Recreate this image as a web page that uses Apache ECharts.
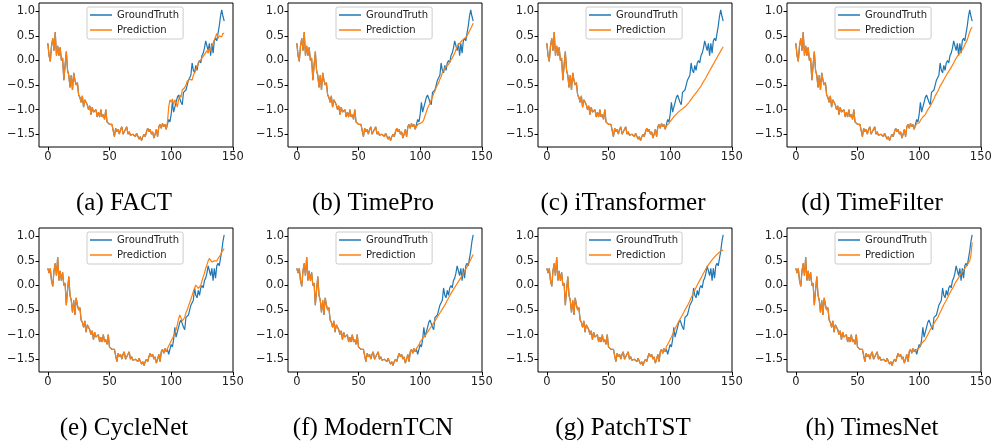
<!DOCTYPE html>
<html>
<head>
<meta charset="utf-8">
<title>Forecast comparison</title>
<script src="https://cdn.jsdelivr.net/npm/echarts@6/dist/echarts.min.js"></script>
<style>
  html, body { margin: 0; padding: 0; background: #fff; }
  #main { width: 995px; height: 448px; }
</style>
</head>
<body>
<div id="main"></div>
<script>
// ground truth, top row (t = 0..143)
var gtTop = [
  0.35, 0.1, -0.02, 0.3, 0.45, 0.2, 0.58, 0.1, 0.3, 0.1,
  0.27, 0.0, 0.05, -0.4, -0.1, 0.18, -0.2, -0.3, -0.55, -0.3,
  -0.6, -0.25, -0.4, -0.5, -0.45, -0.7, -0.75, -0.85, -0.72, -0.95,
  -0.8, -0.85, -0.9, -1.0, -0.92, -1.1, -0.95, -1.05, -1.05, -1.0,
  -1.15, -1.05, -1.15, -1.0, -1.15, -1.1, -1.2, -1.0, -1.25, -1.28,
  -1.3, -1.28, -1.3, -1.28, -1.55, -1.38, -1.45, -1.4, -1.5, -1.4,
  -1.35, -1.5, -1.45, -1.48, -1.35, -1.5, -1.45, -1.52, -1.48, -1.5,
  -1.5, -1.55, -1.48, -1.52, -1.6, -1.55, -1.63, -1.55, -1.5, -1.55,
  -1.45, -1.38, -1.45, -1.4, -1.5, -1.45, -1.58, -1.5, -1.4, -1.55,
  -1.35, -1.3, -1.38, -1.28, -1.35, -1.3, -1.4, -1.38, -1.2, -1.25,
  -1.1, -0.85, -1.05, -0.95, -0.85, -0.75, -0.7, -0.72, -0.85, -0.9,
  -0.65, -0.65, -0.6, -0.5, -0.4, -0.35, -0.3, -0.05, -0.2, -0.25,
  -0.1, -0.2, -0.05, 0.0, -0.05, 0.1, 0.15, 0.25, 0.4, 0.38,
  0.2, 0.35, 0.1, 0.35, 0.15, 0.4, 0.45, 0.4, 0.55, 0.7,
  0.9, 1.03, 0.9, 0.8
];

// ground truth, bottom row (same window, two steps later)
var gtBottom = [
  0.35, 0.25, 0.35, 0.1, -0.02, 0.3, 0.45, 0.2, 0.58, 0.1,
  0.3, 0.1, 0.27, 0.0, 0.05, -0.4, -0.1, 0.18, -0.2, -0.3,
  -0.55, -0.3, -0.6, -0.25, -0.4, -0.5, -0.45, -0.7, -0.75, -0.85,
  -0.72, -0.95, -0.8, -0.85, -0.9, -1.0, -0.92, -1.1, -0.95, -1.05,
  -1.05, -1.0, -1.15, -1.05, -1.15, -1.0, -1.15, -1.1, -1.2, -1.0,
  -1.25, -1.28, -1.3, -1.28, -1.3, -1.28, -1.55, -1.38, -1.45, -1.4,
  -1.5, -1.4, -1.35, -1.5, -1.45, -1.48, -1.35, -1.5, -1.45, -1.52,
  -1.48, -1.5, -1.5, -1.55, -1.48, -1.52, -1.6, -1.55, -1.63, -1.55,
  -1.5, -1.55, -1.45, -1.38, -1.45, -1.4, -1.5, -1.45, -1.58, -1.5,
  -1.4, -1.55, -1.35, -1.3, -1.38, -1.28, -1.35, -1.3, -1.4, -1.38,
  -1.2, -1.25, -1.1, -0.85, -1.05, -0.95, -0.85, -0.75, -0.7, -0.72,
  -0.85, -0.9, -0.65, -0.65, -0.6, -0.5, -0.4, -0.35, -0.3, -0.05,
  -0.2, -0.25, -0.1, -0.2, -0.05, 0.0, -0.05, 0.1, 0.15, 0.25,
  0.4, 0.38, 0.2, 0.35, 0.1, 0.35, 0.15, 0.4, 0.45, 0.4,
  0.55, 0.7, 0.9, 1.03
];

// predictions for t = 97..143 (inputs 0..96 are the ground truth)
var predFACT = [
  -1.25, -0.95, -0.8, -0.85, -0.78, -0.9, -0.8, -0.85, -0.95, -0.8,
  -0.7, -0.75, -0.6, -0.62, -0.55, -0.5, -0.42, -0.45, -0.38, -0.35,
  -0.4, -0.3, -0.25, -0.2, -0.12, -0.15, -0.02, -0.05, 0.05, 0.02,
  0.12, 0.08, 0.2, 0.15, 0.25, 0.2, 0.3, 0.35, 0.42, 0.38,
  0.55, 0.45, 0.5, 0.52, 0.48, 0.55, 0.55
];
var predTimePro = [
  -1.35, -1.3, -1.3, -1.28, -1.27, -1.25, -1.2, -1.12, -1.05, -0.97,
  -0.92, -0.87, -0.8, -0.75, -0.67, -0.62, -0.55, -0.5, -0.45, -0.38,
  -0.33, -0.25, -0.2, -0.17, -0.12, -0.1, -0.08, -0.02, 0.0, 0.05,
  0.08, 0.15, 0.22, 0.28, 0.32, 0.35, 0.38, 0.41, 0.42, 0.45,
  0.47, 0.5, 0.55, 0.6, 0.65, 0.7, 0.76
];
var predITransformer = [
  -1.33, -1.3, -1.28, -1.24, -1.21, -1.17, -1.14, -1.12, -1.09, -1.07,
  -1.04, -1.02, -1.0, -0.98, -0.96, -0.94, -0.92, -0.89, -0.86, -0.82,
  -0.79, -0.76, -0.72, -0.69, -0.66, -0.63, -0.59, -0.56, -0.52, -0.48,
  -0.43, -0.39, -0.35, -0.3, -0.26, -0.21, -0.17, -0.12, -0.08, -0.03,
  0.01, 0.06, 0.1, 0.15, 0.19, 0.24, 0.28
];
var predTimeFilter = [
  -1.33, -1.28, -1.3, -1.27, -1.22, -1.2, -1.15, -1.13, -1.1, -1.05,
  -1.0, -0.98, -0.93, -0.9, -0.83, -0.78, -0.72, -0.68, -0.63, -0.58,
  -0.52, -0.48, -0.44, -0.39, -0.36, -0.3, -0.27, -0.22, -0.19, -0.14,
  -0.1, -0.05, 0.0, 0.05, 0.08, 0.12, 0.15, 0.18, 0.21, 0.26,
  0.32, 0.35, 0.42, 0.5, 0.58, 0.64, 0.68
];
var predCycleNet = [
  -1.28, -1.23, -1.18, -1.13, -1.08, -1.03, -1.0, -0.9, -0.8, -0.68,
  -0.6, -0.62, -0.72, -0.76, -0.65, -0.55, -0.5, -0.42, -0.35, -0.28,
  -0.2, -0.12, -0.05, 0.01, -0.02, -0.06, -0.09, 0.0, 0.1, 0.18,
  0.25, 0.35, 0.42, 0.5, 0.55, 0.52, 0.48, 0.47, 0.5, 0.52,
  0.5, 0.55, 0.58, 0.62, 0.68, 0.72, 0.75
];
var predModernTCN = [
  -1.28, -1.24, -1.21, -1.15, -1.14, -1.08, -1.07, -1.02, -1.0, -0.95,
  -0.93, -0.87, -0.85, -0.8, -0.76, -0.72, -0.68, -0.64, -0.6, -0.56,
  -0.52, -0.48, -0.44, -0.4, -0.35, -0.3, -0.26, -0.21, -0.16, -0.12,
  -0.08, -0.04, 0.0, 0.04, 0.08, 0.12, 0.16, 0.2, 0.24, 0.29,
  0.33, 0.38, 0.43, 0.48, 0.53, 0.58, 0.63
];
var predPatchTST = [
  -1.24, -1.2, -1.15, -1.1, -1.05, -0.99, -0.94, -0.88, -0.83, -0.78,
  -0.73, -0.69, -0.64, -0.6, -0.55, -0.5, -0.46, -0.41, -0.36, -0.31,
  -0.25, -0.2, -0.14, -0.09, -0.04, 0.01, 0.06, 0.1, 0.15, 0.2,
  0.25, 0.29, 0.34, 0.38, 0.42, 0.46, 0.49, 0.52, 0.55, 0.58,
  0.61, 0.64, 0.66, 0.68, 0.7, 0.71, 0.72
];
var predTimesNet = [
  -1.32, -1.3, -1.28, -1.27, -1.22, -1.18, -1.15, -1.12, -1.1, -1.05,
  -1.0, -0.95, -0.9, -0.87, -0.82, -0.78, -0.73, -0.7, -0.66, -0.6,
  -0.55, -0.5, -0.44, -0.39, -0.35, -0.3, -0.25, -0.2, -0.16, -0.1,
  -0.06, -0.02, 0.04, 0.08, 0.12, 0.15, 0.2, 0.24, 0.28, 0.3,
  0.35, 0.38, 0.42, 0.45, 0.5, 0.62, 0.88
];

var captions = ['(a) FACT', '(b) TimePro', '(c) iTransformer', '(d) TimeFilter',
                '(e) CycleNet', '(f) ModernTCN', '(g) PatchTST', '(h) TimesNet'];
var predictions = [predFACT, predTimePro, predITransformer, predTimeFilter,
                   predCycleNet, predModernTCN, predPatchTST, predTimesNet];
var xTicks = [0, 50, 100, 150];
var yTicks = [-1.5, -1.0, -0.5, 0.0, 0.5, 1.0];
var inputLen = 97;

var colX = [0, 249, 499, 748];
var rowY = [0, 225];
var blue = '#1f77b4', orange = '#ff7f0e';
var tickFont = { fontFamily: 'DejaVu Sans', fontSize: 11.5, color: '#222' };

var grids = [], xAxes = [], yAxes = [], series = [], legends = [], graphics = [];

captions.forEach(function (cap, k) {
  var cx = colX[k % 4], cy = rowY[Math.floor(k / 4)];
  var gt = k < 4 ? gtTop : gtBottom;
  var pred = gt.slice(0, inputLen).concat(predictions[k]);

  grids.push({ left: cx + 39, top: cy + 3, width: 194, height: 144,
    show: true, borderColor: '#000', borderWidth: 1 });
  xAxes.push({
    type: 'value', gridIndex: k, min: -7.15, max: 150.15, position: 'bottom',
    axisLine: { show: false, onZero: false }, splitLine: { show: false },
    axisTick: { show: true, length: 3.5, customValues: xTicks, lineStyle: { color: '#000' } },
    axisLabel: Object.assign({ margin: 4, customValues: xTicks,
      formatter: function (v) { return String(v); } }, tickFont)
  });
  yAxes.push({
    type: 'value', gridIndex: k, min: -1.76, max: 1.17, position: 'left',
    axisLine: { show: false, onZero: false }, splitLine: { show: false },
    axisTick: { show: true, length: 3.5, customValues: yTicks, lineStyle: { color: '#000' } },
    axisLabel: Object.assign({ margin: 4, customValues: yTicks,
      formatter: function (v) { return v.toFixed(1).replace('-', '\u2212'); } }, tickFont)
  });
  series.push({
    name: 'GroundTruth', type: 'line', xAxisIndex: k, yAxisIndex: k,
    showSymbol: false, color: blue, lineStyle: { width: 1.2, color: blue },
    data: gt.map(function (v, i) { return [i, v]; })
  });
  series.push({
    name: 'Prediction', type: 'line', xAxisIndex: k, yAxisIndex: k,
    showSymbol: false, color: orange, lineStyle: { width: 1.2, color: orange },
    data: pred.map(function (v, i) { return [i, v]; })
  });
  legends.push({
    orient: 'vertical', left: cx + 87, top: cy + 7,
    data: ['GroundTruth', 'Prediction'], selectedMode: false,
    icon: 'rect', itemWidth: 22, itemHeight: 1.5, itemGap: 5,
    padding: [3, 4, 4, 3],
    backgroundColor: 'rgba(255,255,255,0.8)', borderColor: '#ccc', borderWidth: 1, borderRadius: 2,
    textStyle: { fontFamily: 'DejaVu Sans', fontSize: 10, color: '#222', lineHeight: 10 }
  });
  graphics.push({
    type: 'text', x: cx + 124, y: cy + 191,
    style: { text: cap, align: 'center', verticalAlign: 'top',
      font: '25px "Liberation Serif"', fill: '#000' }
  });
});

var chart = echarts.init(document.getElementById('main'), null, { renderer: 'canvas' });
chart.setOption({
  animation: false,
  backgroundColor: '#fff',
  grid: grids,
  xAxis: xAxes,
  yAxis: yAxes,
  legend: legends,
  series: series,
  graphic: graphics
});
</script>
</body>
</html>
